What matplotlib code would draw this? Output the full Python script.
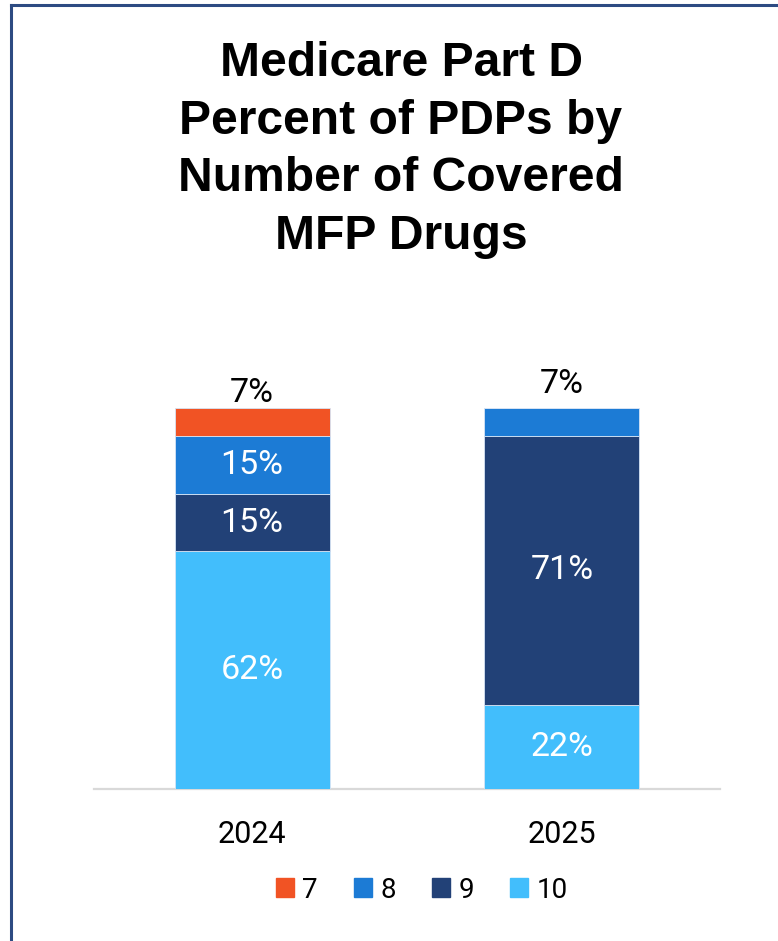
import matplotlib.pyplot as plt
from matplotlib.lines import Line2D

# data
years = ['2024', '2025']
series = ['7', '8', '9', '10']
colors = ['#F15324', '#1C7BD5', '#224177', '#42BEFC']
# stacking order bottom -> top: 10, 9, 8, 7
vals_10 = [62.4, 22.0]
vals_9 = [15.0, 70.7]
vals_8 = [15.2, 7.3]
vals_7 = [7.4, 0.0]
labels_10 = ['62%', '22%']
labels_9 = ['15%', '71%']
labels_8 = ['15%', '7%']
labels_7 = ['7%', '']

W, H = 778, 941
fig = plt.figure(figsize=(W / 100, H / 100), dpi=100)

# axes placed in pixel terms
ax = fig.add_axes([94 / W, (H - 789) / H, 626 / W, 381 / H])

x = [0, 1]
stack = [
    (vals_10, labels_10, colors[3]),
    (vals_9, labels_9, colors[2]),
    (vals_8, labels_8, colors[1]),
    (vals_7, labels_7, colors[0]),
]
bottom = [0.0, 0.0]
for vals, labs, col in stack:
    ax.bar(x, vals, width=0.5, bottom=bottom, color=col,
           edgecolor='#D6E4F5', linewidth=0.6, zorder=2)
    bottom = [b + v for b, v in zip(bottom, vals)]

# labels inside segments
lab_font = ['Roboto', 'DejaVu Sans']
for i in range(2):
    b = 0.0
    for vals, labs, col in stack:
        v = vals[i]
        if v > 10:
            ax.text(x[i], b + v / 2, labs[i], ha='center', va='center',
                    color='white', fontsize=24.5, family=lab_font)
        b += v

# small top segments labelled above the bar
ax.annotate(labels_7[0], (x[0], bottom[0]), xytext=(0, -1), textcoords='offset points',
            ha='center', va='bottom', fontsize=24.5, family=lab_font,
            annotation_clip=False)
ax.annotate(labels_8[1], (x[1], bottom[1]), xytext=(0, 6), textcoords='offset points',
            ha='center', va='bottom', fontsize=24.5, family=lab_font,
            annotation_clip=False)

ax.set_xlim(-0.51, 1.51)
ax.set_ylim(0, 100)
ax.set_xticks(x)
ax.set_xticklabels(years, fontsize=22, family=lab_font)
ax.tick_params(axis='x', length=0, pad=22)
ax.set_yticks([])
for s in ['top', 'right', 'left']:
    ax.spines[s].set_visible(False)
ax.spines['bottom'].set_color('#D9D9D9')
ax.spines['bottom'].set_linewidth(1.6)
ax.spines['bottom'].set_zorder(1)

fig.text(401 / W, 1 - 150 / H,
         'Medicare Part D\nPercent of PDPs by\nNumber of Covered\nMFP Drugs',
         ha='center', va='center', fontsize=34.6, fontweight='bold',
         family=['Liberation Sans', 'DejaVu Sans'], linespacing=1.36)

handles = [plt.Rectangle((0, 0), 1, 1, color=c) for c in colors]
fig.legend(handles, series, loc='center', bbox_to_anchor=(422 / W, 1 - 890 / H),
           ncol=4, frameon=False, prop={'family': lab_font, 'size': 20},
           handlelength=0.65, handleheight=0.65, handletextpad=0.3, columnspacing=1.3)

# frame lines (left and top) of the panel
fig.add_artist(Line2D([10.5 / W, 10.5 / W], [0, 1 - 5 / H], color='#2D4B82', lw=2.2))
fig.add_artist(Line2D([10.5 / W, 1], [1 - 5 / H, 1 - 5 / H], color='#2D4B82', lw=2.2))

fig.savefig('out.png', dpi=100)
